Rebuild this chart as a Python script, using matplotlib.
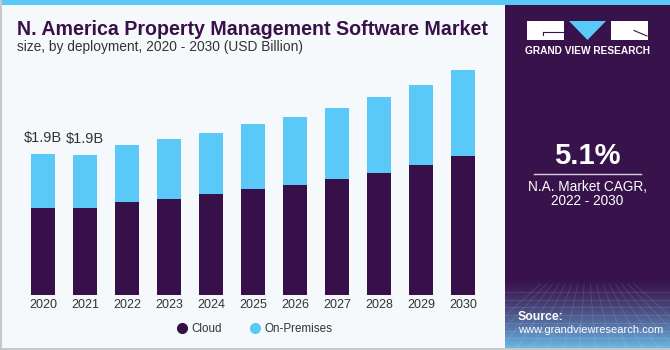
#!/usr/bin/env python3
"""
plot.py

N. America property management software market, stacked bars by deployment
"""

import numpy as np
import matplotlib.pyplot as plt
from matplotlib.lines import Line2D
from matplotlib.patches import Rectangle, Polygon

years = ['2020', '2021', '2022', '2023', '2024', '2025', '2026', '2027',
         '2028', '2029', '2030']
cloud = [1.18, 1.17, 1.25, 1.30, 1.36, 1.43, 1.49, 1.57, 1.65, 1.75, 1.88]
on_premises = [0.72, 0.72, 0.77, 0.80, 0.83, 0.88, 0.91, 0.96, 1.02, 1.08, 1.16]
value_labels = ['$1.9B', '$1.9B']

PURPLE = '#37104a'
BLUE = '#5bc9f7'
BG = '#f5f9fc'

plt.rcParams['font.family'] = ['Liberation Sans', 'DejaVu Sans']

fig = plt.figure(figsize=(6.7, 3.5), dpi=100, facecolor=BG)

# main chart area, placed in pixels
ax = fig.add_axes([17 / 670, 55 / 350, 473 / 670, 235 / 350])
ax.set_facecolor(BG)
x = np.arange(len(years))
ax.bar(x, cloud, width=0.57, color=PURPLE, label='Cloud')
ax.bar(x, on_premises, width=0.57, bottom=cloud, color=BLUE,
       label='On-Premises')
totals = np.array(cloud) + np.array(on_premises)
for i, txt in enumerate(value_labels):
    ax.text(x[i], totals[i] + 0.12, txt, ha='center', va='bottom',
            fontsize=10.5, color='#333333')
ax.set_xlim(-0.619, 10.643)
ax.set_ylim(0, 3.173)
ax.set_xticks(x)
ax.set_xticklabels(years, fontsize=9, color='#333333')
ax.tick_params(axis='x', length=0, pad=3)
ax.set_yticks([])
for s in ax.spines.values():
    s.set_visible(False)

handles = [Line2D([], [], marker='o', ls='', color=PURPLE, markersize=7),
           Line2D([], [], marker='o', ls='', color=BLUE, markersize=7)]
fig.legend(handles, ['Cloud', 'On-Premises'], loc='center',
           bbox_to_anchor=(255 / 670, 21 / 350), ncol=2, frameon=False,
           fontsize=8.4, handlelength=0.8, handletextpad=0.45,
           columnspacing=2.4, labelcolor='#333333')

# decoration overlay in pixel coordinates
ov = fig.add_axes([0, 0, 1, 1], zorder=-1)
ov.set_xlim(0, 670)
ov.set_ylim(350, 0)
ov.axis('off')
ov.add_patch(Rectangle((0, 0), 670, 5, color=BLUE, lw=0))
ov.add_patch(Rectangle((0, 0), 1.5, 350, color='#c8c8c8', lw=0))
ov.add_patch(Rectangle((0, 348), 670, 2, color='#c8c8c8', lw=0))

ov2 = fig.add_axes([0, 0, 1, 1])
ov2.set_xlim(0, 670)
ov2.set_ylim(350, 0)
ov2.axis('off')
ov2.add_patch(Rectangle((505, 5), 165, 343, color='#38124a', lw=0))

# gradient at the bottom of the side panel
top_c = np.array([0x38, 0x12, 0x4a]) / 255
bot_c = np.array([0x6a, 0xb4, 0xe2]) / 255
t = np.linspace(0, 1, 100)[:, None] ** 1.3
grad = top_c * (1 - t[..., None]) + bot_c * t[..., None]
grad = np.repeat(grad, 2, axis=1)
ov2.imshow(grad, extent=[505, 670, 348, 278], aspect='auto', zorder=1)
for yy in np.linspace(292, 346, 8):
    ov2.plot([505, 670], [yy, yy], color='white', alpha=0.12, lw=0.6,
             zorder=2)
for xx in np.linspace(470, 705, 16):
    ov2.plot([587 + (xx - 587) * 0.4, xx], [284, 348], color='white',
             alpha=0.12, lw=0.6, zorder=2)
ov2.set_xlim(0, 670)
ov2.set_ylim(350, 0)

# logo
ov2.add_patch(Rectangle((527, 21), 37, 18.5, color='white', lw=0, zorder=3))
ov2.plot([543, 563], [32, 32], color='#38124a', lw=0.8, zorder=4)
ov2.plot([543, 543], [32, 35], color='#38124a', lw=0.8, zorder=4)
ov2.add_patch(Polygon([[569, 21], [606, 21], [587.5, 40]], color=BLUE,
                      lw=0, zorder=3))
ov2.add_patch(Rectangle((611, 21), 36.5, 18.5, color='white', lw=0,
                        zorder=3))
ov2.plot([634, 647], [30.5, 36], color='#38124a', lw=0.8, zorder=4)
ov2.text(587.5, 51, 'GRAND VIEW RESEARCH', color='white', fontsize=7.3,
         fontweight='bold', ha='center', va='center', zorder=4)

ov2.text(587.5, 156, '5.1%', color='white', fontsize=21, fontweight='bold',
         ha='center', va='center', zorder=4)
ov2.plot([534, 641], [173.5, 173.5], color='#d8d0e0', lw=1, zorder=4)
ov2.text(587.5, 187, 'N.A. Market CAGR,', color='white', fontsize=9.8,
         ha='center', va='center', zorder=4)
ov2.text(587.5, 201, '2022 - 2030', color='white', fontsize=9.8,
         ha='center', va='center', zorder=4)
ov2.text(518, 317, 'Source:', color='white', fontsize=8.8, fontweight='bold',
         ha='left', va='center', zorder=4)
ov2.text(518, 330, 'www.grandviewresearch.com', color='white', fontsize=8,
         ha='left', va='center', zorder=4)

# titles
ov2.text(17, 29.5, 'N. America Property Management Software Market',
         color='#3a1048', fontsize=14.1, fontweight='bold', ha='left',
         va='center', zorder=4)
ov2.text(17, 47, 'size, by deployment, 2020 - 2030 (USD Billion)',
         color='#333333', fontsize=9.9, ha='left', va='center', zorder=4)

fig.savefig('out.png', dpi=100, facecolor=BG)
